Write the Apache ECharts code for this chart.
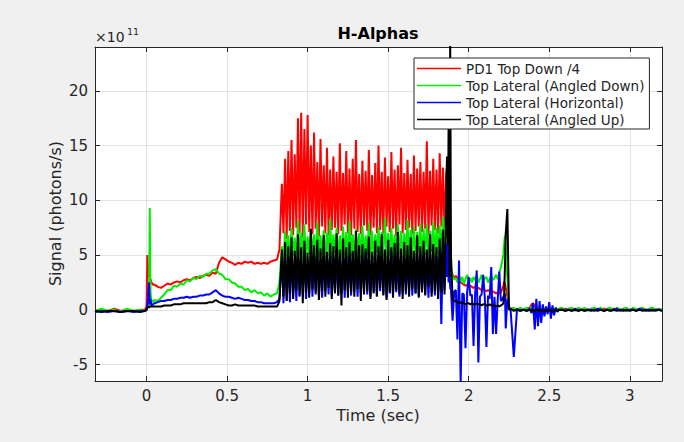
<!DOCTYPE html>
<html>
<head>
<meta charset="utf-8">
<script src="https://cdn.jsdelivr.net/npm/echarts@6/dist/echarts.min.js"></script>
<style>
html,body{margin:0;padding:0;background:#f0f0f0;}
#chart{width:684px;height:442px;}
</style>
</head>
<body>
<div id="chart"></div>
<script>
// ---- DATA (signal in units of 1e11 photons/s) ----
const seriesNames = ['PD1 Top Down /4','Top Lateral (Angled Down)','Top Lateral (Horizontal)','Top Lateral (Angled Up)'];
const xTicks = [0,0.5,1,1.5,2,2.5,3];
const yTicks = [-5,0,5,10,15,20];

const time = [
 -0.32,-0.28,-0.24,-0.2,-0.16,-0.12,-0.08,-0.04,-0.01,
 0,0.005,0.01,0.015,0.02,0.025,0.03,0.04,
 0.05,0.07,0.09,0.11,0.13,0.15,0.17,0.19,0.21,0.23,
 0.25,0.27,0.29,0.31,0.33,0.35,0.37,0.39,0.41,0.43,
 0.45,0.47,0.49,0.51,0.53,0.55,0.57,0.59,0.61,0.63,
 0.65,0.67,0.69,0.71,0.73,0.75,0.77,0.79,0.81,
 0.825,
 0.84,0.85,0.86,0.87,0.88,0.89,0.90,0.91,0.92,0.93,
 0.94,0.95,0.96,0.97,0.98,0.99,1.00,1.01,1.02,1.03,
 1.04,1.05,1.06,1.07,1.08,1.09,1.10,1.11,1.12,1.13,
 1.14,1.15,1.16,1.17,1.18,1.19,1.20,1.21,1.22,1.23,
 1.24,1.25,1.26,1.27,1.28,1.29,1.30,1.31,1.32,1.33,
 1.34,1.35,1.36,1.37,1.38,1.39,1.40,1.41,1.42,1.43,
 1.44,1.45,1.46,1.47,1.48,1.49,1.50,1.51,1.52,1.53,
 1.54,1.55,1.56,1.57,1.58,1.59,1.60,1.61,1.62,1.63,
 1.64,1.65,1.66,1.67,1.68,1.69,1.70,1.71,1.72,1.73,
 1.74,1.75,1.76,1.77,1.78,1.79,1.80,1.81,1.82,1.83,
 1.84,1.85,1.86,
 1.865,1.87,1.875,1.88,1.885,1.89,1.9,1.91,
 1.92,1.93,1.94,1.95,1.96,1.97,1.98,1.99,2.00,2.01,
 2.02,2.03,2.04,2.05,2.06,2.07,2.08,2.09,2.10,2.11,
 2.12,2.13,2.14,2.15,2.16,2.17,2.18,2.19,2.20,2.21,
 2.215,2.22,2.225,2.23,2.24,2.25,2.26,
 2.28,2.3,2.32,2.34,2.36,
 2.38,2.39,2.4,2.41,2.42,2.43,2.44,2.45,2.46,2.47,
 2.48,2.49,2.5,2.51,2.52,2.53,2.54,2.55,2.56,
 2.58,2.6,2.62,2.64,2.66,2.68,2.7,2.72,2.74,2.76,
 2.78,2.8,2.82,2.84,2.86,2.88,2.9,2.92,2.94,2.96,
 2.98,3,3.02,3.04,3.06,3.08,3.1,3.12,3.14,3.16,
 3.18,3.2
];

const pd1TopDown = [
 -0.1,0,-0.1,0.1,-0.1,0,-0.1,0,0,
 0.3,5.0,3.0,4.2,2.6,2.8,2.5,2.3,
 2.3,2.1,2.0,2.2,2.4,2.3,2.5,2.6,2.5,2.7,
 2.8,2.7,2.9,3.0,2.9,3.1,3.2,3.1,3.4,3.3,
 4.3,4.8,4.6,4.4,4.3,4.1,4.3,4.2,4.4,4.3,
 4.4,4.2,4.3,4.2,4.3,4.2,4.4,4.5,4.6,
 5.5,
 11.5,7.0,13.8,6.5,14.5,7.2,15.5,6.8,14.2,7.5,
 17.5,7.0,18.0,6.6,16.5,7.8,17.8,7.1,15.0,6.9,
 16.2,7.4,13.5,6.7,15.6,7.6,13.2,7.0,14.8,6.8,
 12.8,7.3,14.0,7.5,12.6,6.9,15.2,7.2,12.5,7.8,
 14.5,7.0,12.9,6.8,13.8,7.4,15.5,7.1,12.4,6.9,
 13.6,7.7,12.7,7.2,14.6,6.8,12.3,7.5,13.4,7.0,
 15.0,7.3,12.6,6.9,13.9,7.6,12.2,7.1,14.4,7.4,
 12.8,6.7,13.2,7.8,14.8,7.0,12.5,7.3,13.7,7.5,
 12.4,6.9,14.1,7.2,12.9,7.6,13.5,7.1,12.6,7.4,
 15.4,6.8,12.7,7.7,13.8,7.3,12.8,7.0,14.3,7.6,
 13.0,7.2,12.5,
 13.0,8.0,12.0,9.0,6.0,3.5,3.2,2.9,
 3.1,2.9,2.6,2.5,2.4,2.3,2.2,2.3,2.1,2.2,
 2.1,2.0,2.1,1.9,2.0,1.9,1.8,1.9,1.8,1.7,
 1.8,1.7,1.6,1.7,1.6,1.5,1.6,1.5,1.6,2.0,
 2.2,2.6,2.4,2.0,1.2,0.3,0.1,
 0.1,0.0,0.1,0.0,0.1,
 0.2,0.5,0.6,0.3,0.2,0.1,0.3,0.0,0.1,0.0,
 0.1,0.0,0.1,0.0,0.1,0.0,0.0,0.1,0.0,
 0.0,0.1,0.0,0.0,0.1,0.0,0.0,0.1,0.0,0.0,
 0.1,0.0,0.0,0.1,0.0,0.0,0.1,0.0,0.0,0.1,
 0.0,0.0,0.1,0.0,0.0,0.1,0.0,0.0,0.1,0.0,
 0.0,0.0
];

const angledDown = [
 -0.1,0.1,-0.1,0,-0.2,0.1,-0.1,0,-0.1,
 0.0,0.2,0.3,0.4,9.3,1.5,0.9,0.7,
 0.9,0.8,1.1,1.4,1.8,1.8,2.2,2.1,2.4,2.3,
 2.7,2.6,2.9,2.8,3.1,3.0,3.3,3.3,3.6,3.7,
 3.3,3.2,2.8,2.8,2.5,2.4,2.1,2.1,1.8,1.9,
 1.6,1.8,1.5,1.6,1.3,1.5,1.2,1.4,1.5,
 2.5,
 5.8,4.2,7.2,4.8,6.8,4.5,7.5,4.9,6.6,4.3,
 8.2,5.0,7.0,4.6,7.8,4.4,6.7,5.1,7.4,4.7,
 6.9,4.5,8.0,4.8,6.8,5.0,7.3,4.4,7.0,4.9,
 8.3,4.6,6.9,5.2,7.5,4.5,6.8,4.8,7.6,5.0,
 7.1,4.6,8.1,4.9,6.9,4.4,7.4,5.1,7.0,4.7,
 7.7,4.5,6.8,5.0,8.0,4.8,7.2,4.6,6.9,5.2,
 7.6,4.7,7.1,4.9,8.4,4.5,7.0,5.0,7.5,4.6,
 6.9,4.8,7.8,5.1,7.2,4.7,7.0,4.9,8.2,4.6,
 7.3,5.0,7.6,4.8,7.1,5.2,7.9,4.7,7.4,5.0,
 7.8,4.9,7.2,5.3,8.0,4.8,7.5,5.1,7.7,5.0,
 8.5,5.4,9.0,
 7.0,10.0,6.5,8.5,6.0,4.0,3.0,2.8,
 2.9,2.5,3.1,2.6,3.0,2.4,2.8,3.2,2.6,2.9,
 2.5,3.0,2.7,3.1,2.5,2.8,3.2,2.6,2.9,3.0,
 2.5,2.8,3.1,2.7,2.9,3.2,2.8,3.4,3.9,4.6,
 5.0,6.0,6.8,5.5,3.0,0.3,0.1,
 0.2,-0.1,0.2,0.0,0.2,
 -0.1,0.3,0.1,-0.2,0.3,0.0,0.2,-0.1,0.2,0.0,
 0.2,-0.1,0.2,0.0,0.1,-0.1,0.2,0.0,0.1,
 0.2,-0.1,0.1,0.2,-0.1,0.2,0.0,0.2,-0.1,0.1,
 0.2,0.0,0.2,-0.1,0.1,0.2,-0.1,0.2,0.0,0.1,
 0.2,-0.1,0.2,0.0,0.1,0.2,-0.1,0.1,0.2,0.0,
 0.1,0.0
];

const horizontal = [
 -0.2,-0.1,-0.2,-0.1,-0.2,-0.1,-0.2,-0.1,-0.1,
 0.0,0.3,1.5,2.5,0.5,1.0,0.4,0.5,
 0.6,0.7,0.8,0.8,0.9,0.9,1.0,1.0,1.1,1.1,
 1.2,1.1,1.2,1.2,1.3,1.3,1.4,1.4,1.6,1.8,
 1.5,1.3,1.2,1.2,1.1,1.0,1.1,1.0,0.9,0.9,
 0.8,0.8,0.7,0.7,0.6,0.6,0.6,0.6,0.7,
 1.0,
 4.5,0.6,5.0,0.9,4.7,0.7,5.3,1.1,4.4,0.8,
 5.1,1.2,4.6,1.4,5.4,1.0,4.3,1.5,5.0,1.2,
 4.8,1.6,5.2,1.3,4.5,1.1,5.0,1.7,4.7,1.4,
 5.3,1.2,4.4,1.6,5.1,1.3,4.6,1.5,5.4,1.1,
 4.9,1.7,4.5,1.3,5.2,1.6,4.8,1.2,5.0,1.5,
 4.6,1.8,5.3,1.4,4.7,1.2,5.1,1.6,4.5,1.3,
 5.0,1.7,4.8,1.4,5.2,1.1,4.6,1.5,5.3,1.3,
 4.9,1.6,4.7,1.2,5.1,1.5,4.8,1.4,5.0,1.7,
 4.6,1.3,5.2,1.5,4.9,1.2,5.1,1.6,4.7,1.4,
 5.3,1.1,4.8,1.5,5.0,1.3,4.9,1.6,5.4,-1.3,
 5.6,1.8,6.0,
 3.0,6.0,2.5,5.0,2.0,1.8,-1.0,1.7,
 1.8,-2.7,4.5,-6.8,1.5,1.4,-3.5,1.6,3.0,1.3,
 1.4,-3.3,1.5,3.6,-4.8,1.2,1.4,3.2,1.1,-3.4,
 1.3,1.0,3.9,-2.2,1.2,-2.2,0.9,3.5,0.8,1.0,
 1.2,0.8,1.5,-1.7,1.0,0.2,0.0,
 -4.3,0.1,-0.1,0.0,-0.1,
 0.1,-0.3,0.6,-1.8,1.0,-1.5,0.8,-1.2,0.5,-0.6,
 0.3,-0.4,0.7,-0.8,0.4,-0.5,0.2,-0.2,0.0,
 0.0,-0.1,0.0,-0.1,0.1,-0.1,0.0,-0.1,0.0,0.0,
 -0.1,0.1,0.0,-0.1,0.0,-0.1,0.0,0.1,-0.1,0.0,
 -0.1,0.0,0.0,-0.1,0.1,0.0,-0.1,0.0,-0.1,0.0,
 0.0,-0.1
];

const angledUp = [
 -0.1,-0.2,-0.1,-0.1,-0.2,-0.1,-0.1,-0.2,-0.1,
 0.0,0.2,0.3,0.2,0.3,0.3,0.3,0.3,
 0.3,0.3,0.3,0.4,0.4,0.4,0.5,0.5,0.5,0.6,
 0.6,0.6,0.6,0.6,0.6,0.6,0.6,0.7,0.7,0.9,
 0.7,0.6,0.5,0.4,0.4,0.5,0.4,0.4,0.4,0.4,
 0.4,0.4,0.3,0.3,0.3,0.3,0.3,0.3,0.3,
 0.8,
 5.5,1.2,6.2,0.8,5.8,1.5,6.6,1.0,5.4,1.8,
 6.9,1.3,5.7,0.6,6.3,1.6,5.2,1.1,7.4,1.9,
 5.9,1.4,6.4,0.9,5.6,1.7,6.8,1.2,5.3,2.0,
 6.1,1.0,5.8,1.5,7.0,1.3,5.5,0.4,6.5,1.8,
 5.7,1.1,6.2,1.6,5.4,1.2,7.2,1.9,5.9,0.8,
 6.0,1.4,5.6,1.7,6.7,1.0,5.3,1.5,6.3,1.2,
 5.8,2.0,6.9,1.3,5.5,0.9,6.4,1.6,5.7,1.1,
 6.1,1.8,7.1,1.4,5.6,1.0,6.2,1.7,5.9,1.2,
 6.6,1.9,5.4,1.5,6.8,1.1,5.8,1.6,6.3,1.3,
 5.5,2.1,6.9,1.2,6.0,1.7,5.7,1.0,6.5,1.6,
 7.3,1.4,9.5,
 14.0,6.0,16.5,3.0,25.0,5.0,0.9,0.8,
 0.8,0.7,0.6,0.7,0.6,0.6,0.5,0.6,0.6,0.5,
 0.6,0.5,0.5,0.6,0.5,0.5,0.4,0.5,0.5,0.4,
 0.4,0.5,0.4,0.4,0.4,0.3,0.4,0.3,0.4,0.5,
 0.6,1.5,4.0,7.0,9.2,0.0,0.1,
 -0.1,0.0,-0.1,0.0,-0.1,
 0.0,-0.1,0.0,-0.2,0.1,-0.1,0.0,-0.1,0.0,-0.1,
 0.0,-0.1,0.0,-0.1,0.0,-0.1,0.0,-0.1,0.0,
 0.0,-0.1,0.0,-0.1,0.0,-0.1,0.0,-0.1,0.0,-0.1,
 0.0,-0.1,0.0,-0.1,0.0,-0.1,0.0,-0.1,0.0,-0.1,
 0.0,-0.1,0.0,-0.1,0.0,-0.1,0.0,-0.1,0.0,-0.1,
 0.0,-0.1
];

const seriesValues = [pd1TopDown, angledDown, horizontal, angledUp];
const seriesColors = ['#ff0000','#00ee00','#0000ff','#000000'];

// ---- CHART ----
seriesValues.forEach((a,i)=>{
  if (a.length !== time.length) console.error('length mismatch', i, a.length, time.length);
});

const FONT = '"DejaVu Sans", sans-serif';
const AX = '#262626';
const chart = echarts.init(document.getElementById('chart'), null, {renderer:'svg', width:684, height:442});

function pairs(vals){ return time.map((t,i)=>[t, vals[i]]); }

const series = seriesNames.map((name,k)=>({
  type:'line', name, data: pairs(seriesValues[k]),
  xAxisIndex:0, yAxisIndex:0,
  symbol:'none', showSymbol:false, silent:true, animation:false,
  lineStyle:{width:2, color:seriesColors[k]}, itemStyle:{color:seriesColors[k]},
  emphasis:{disabled:true}
}));

const xMin = -0.32, xMax = 3.2, yMin = -6.5, yMax = 24;

chart.setOption({
  backgroundColor:'#f0f0f0',
  animation:false,
  grid:{left:95, right:22, top:47, bottom:61, show:true, backgroundColor:'#ffffff', borderWidth:0},
  xAxis:[
    {type:'value', min:xMin, max:xMax, position:'bottom',
     axisLine:{show:true, onZero:false, lineStyle:{color:AX, width:1}},
     axisTick:{show:true, inside:true, length:5, customValues:xTicks, lineStyle:{color:AX}},
     axisLabel:{customValues:xTicks, fontSize:15, fontFamily:FONT, color:AX, margin:7},
     splitLine:{show:true, lineStyle:{color:'#e2e2e2', width:1}}},
    {type:'value', min:xMin, max:xMax, position:'top',
     axisLine:{show:true, onZero:false, lineStyle:{color:AX, width:1}},
     axisTick:{show:true, inside:true, length:5, customValues:xTicks, lineStyle:{color:AX}},
     axisLabel:{show:false}, splitLine:{show:false}}
  ],
  yAxis:[
    {type:'value', min:yMin, max:yMax, position:'left',
     axisLine:{show:true, onZero:false, lineStyle:{color:AX, width:1}},
     axisTick:{show:true, inside:true, length:5, customValues:yTicks, lineStyle:{color:AX}},
     axisLabel:{customValues:yTicks, fontSize:15, fontFamily:FONT, color:AX, margin:7},
     splitLine:{show:true, lineStyle:{color:'#e2e2e2', width:1}}},
    {type:'value', min:yMin, max:yMax, position:'right',
     axisLine:{show:true, onZero:false, lineStyle:{color:AX, width:1}},
     axisTick:{show:true, inside:true, length:5, customValues:yTicks, lineStyle:{color:AX}},
     axisLabel:{show:false}, splitLine:{show:false}}
  ],
  legend:{
    orient:'vertical', left:414, top:58, padding:[3,5,2,3], itemGap:2,
    itemWidth:44, itemHeight:1.5, selectedMode:false, icon:'rect',
    backgroundColor:'#ffffff', borderColor:AX, borderWidth:1, borderRadius:0,
    textStyle:{fontSize:13.5, fontFamily:FONT, color:AX, lineHeight:15},
    data:seriesNames
  },
  graphic:[
    {type:'text', x:378, y:33, silent:true, style:{text:'H-Alphas', font:'bold 16px "DejaVu Sans"', fill:'#000', align:'center', verticalAlign:'middle'}},
    {type:'text', x:95, y:37, silent:true, style:{text:'×10', font:'14px "DejaVu Sans"', fill:AX, align:'left', verticalAlign:'middle'}},
    {type:'text', x:127, y:31.5, silent:true, style:{text:'11', font:'9.5px "DejaVu Sans"', fill:AX, align:'left', verticalAlign:'middle'}},
    {type:'text', x:378, y:415, silent:true, style:{text:'Time (sec)', font:'16px "DejaVu Sans"', fill:AX, align:'center', verticalAlign:'middle'}},
    {type:'text', x:55, y:213.5, rotation:Math.PI/2, silent:true, style:{text:'Signal (photons/s)', font:'16px "DejaVu Sans"', fill:AX, align:'center', verticalAlign:'middle'}}
  ],
  series
});
</script>
</body>
</html>
